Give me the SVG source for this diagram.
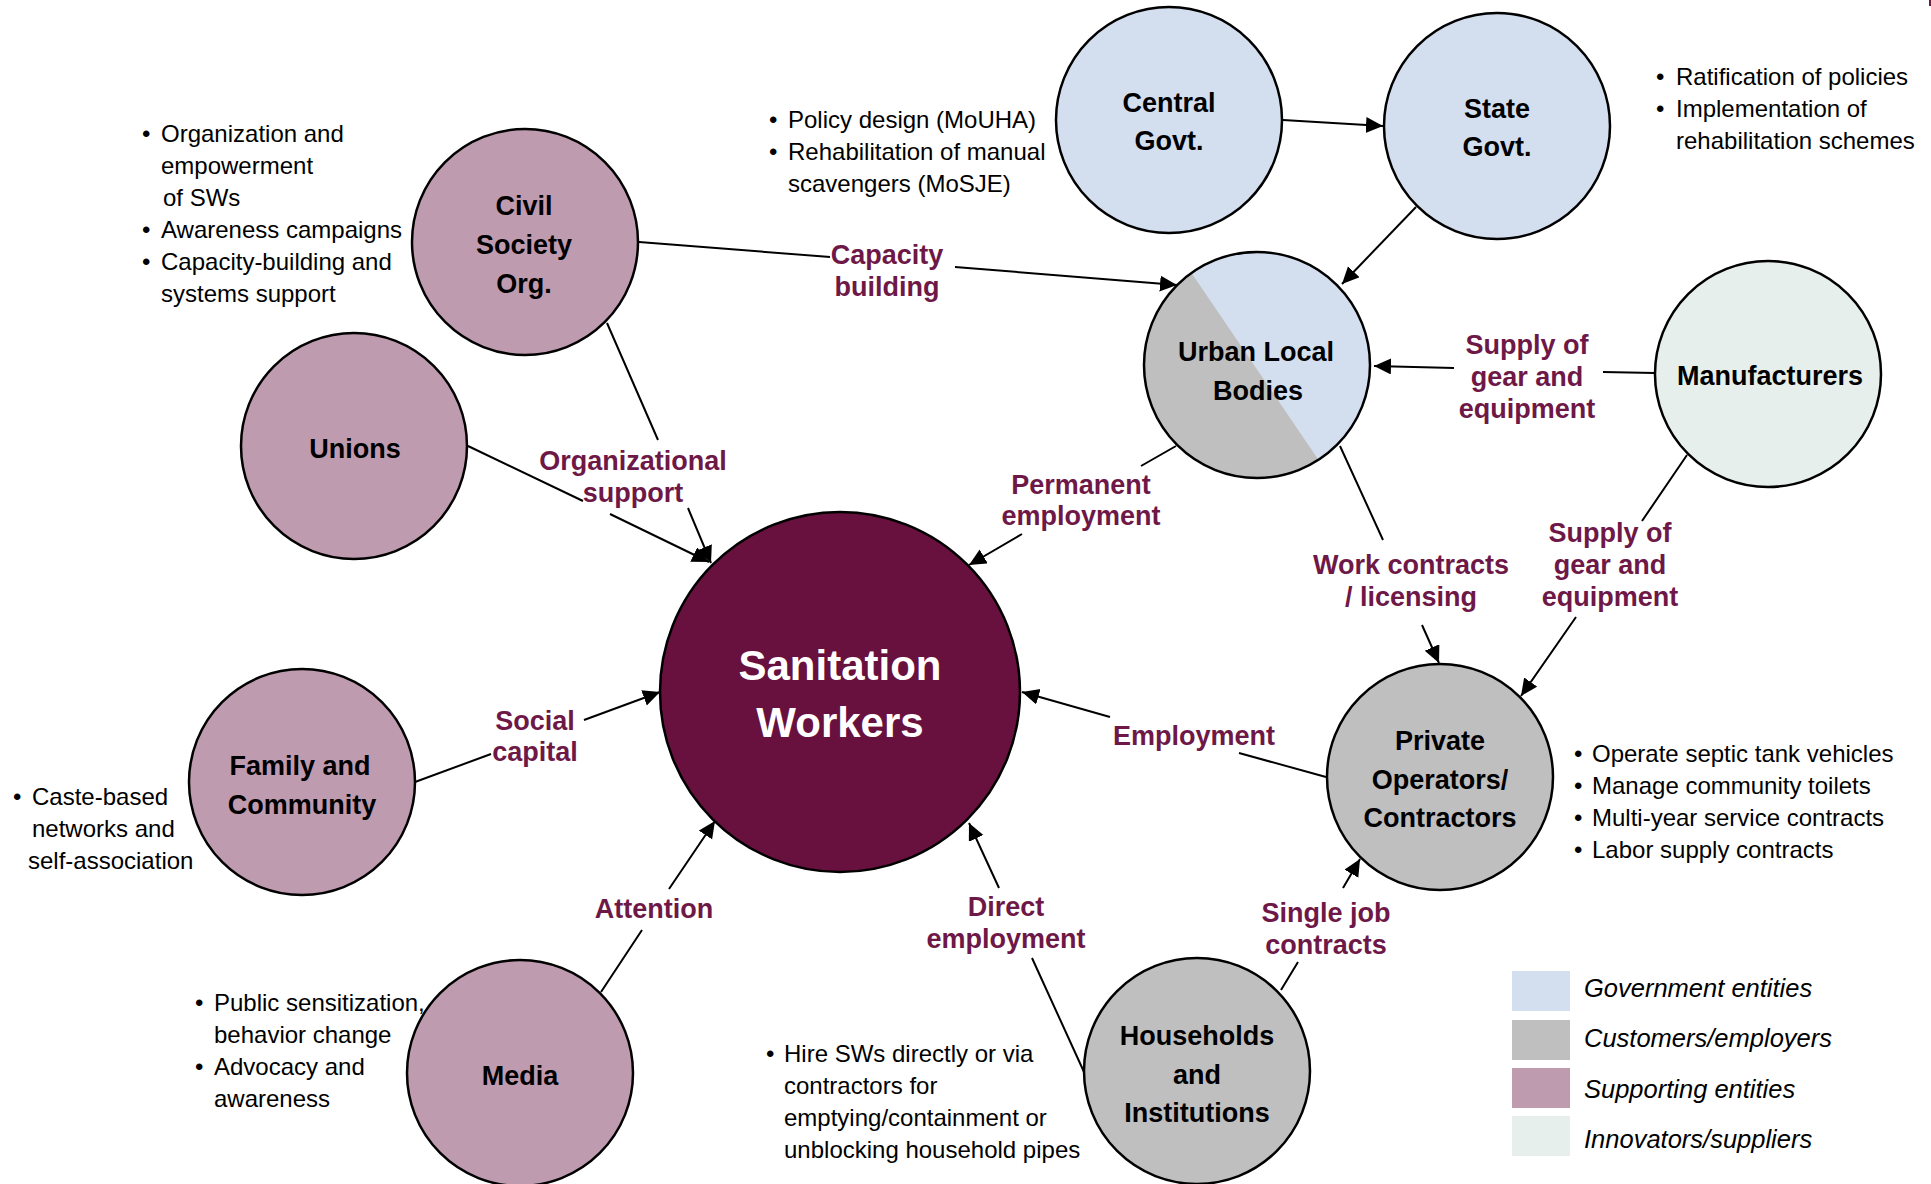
<svg xmlns="http://www.w3.org/2000/svg" width="1931" height="1184" viewBox="0 0 1931 1184">
<style>
.node{stroke:#000;stroke-width:2.5}
.gov{fill:#D3DEEE}
.cust{fill:#BFBFBF}
.sup{fill:#BF9BAF}
.inno{fill:#E6EFEB}
.nl{font-family:"Liberation Sans",Arial,sans-serif;font-weight:bold;font-size:27px;fill:#000;text-anchor:middle}
.el{font-family:"Liberation Sans",Arial,sans-serif;font-weight:bold;font-size:27px;fill:#6E1847;text-anchor:middle}
.bt{font-family:"Liberation Sans",Arial,sans-serif;font-size:24px;fill:#000}
.lg{font-family:"Liberation Sans",Arial,sans-serif;font-style:italic;font-size:25.5px;fill:#000}
.cn{fill:none;stroke:#000;stroke-width:2;marker-end:url(#ah)}
</style>
<defs>
<marker id="ah" markerUnits="userSpaceOnUse" markerWidth="20" markerHeight="18" refX="17" refY="8" orient="auto">
<path d="M0,0 L17,8 L0,16 z" fill="#000"/>
</marker>
<clipPath id="ulbclip"><circle cx="1257" cy="365" r="113"/></clipPath>
</defs>
<rect x="0" y="0" width="1931" height="1184" fill="#fff"/>
<rect x="1929" y="0" width="2" height="6" fill="#6B1A45"/>

<g id="connectors">
<path class="cn" d="M1283,120 L1383,126"/>
<path class="cn" d="M1416,207 L1342,284"/>
<path class="cn" d="M639,242 L830,257 M955,267 L1177,285"/>
<path class="cn" d="M1655,373 L1603,372 M1454,368 L1374,366"/>
<path class="cn" d="M1176,446 L1141,466 M1022,534 L969,565"/>
<path class="cn" d="M607,323 L658,440 M688,508 L711,563"/>
<path class="cn" d="M468,446 L583,501 M610,514 L709,562"/>
<path class="cn" d="M415,782 L491,754 M584,720 L660,692"/>
<path class="cn" d="M601,992 L642,930 M669,889 L715,821"/>
<path class="cn" d="M1084,1072 L1032,958 M999,888 L969,823"/>
<path class="cn" d="M1326,777 L1239,753 M1110,717 L1022,692"/>
<path class="cn" d="M1281,990 L1298,962 M1343,888 L1360,859"/>
<path class="cn" d="M1340,446 L1383,540 M1422,625 L1439,663"/>
<path class="cn" d="M1687,455 L1642,521 M1576,617 L1521,696"/>
</g>

<g id="edge-labels">
<text class="el" x="887" y="264">Capacity</text>
<text class="el" x="887" y="296">building</text>
<text class="el" x="633" y="470">Organizational</text>
<text class="el" x="633" y="502">support</text>
<text class="el" x="1081" y="494">Permanent</text>
<text class="el" x="1081" y="525">employment</text>
<text class="el" x="1527" y="354">Supply of</text>
<text class="el" x="1527" y="386">gear and</text>
<text class="el" x="1527" y="418">equipment</text>
<text class="el" x="1411" y="574">Work contracts</text>
<text class="el" x="1411" y="606">/ licensing</text>
<text class="el" x="1610" y="542">Supply of</text>
<text class="el" x="1610" y="574">gear and</text>
<text class="el" x="1610" y="606">equipment</text>
<text class="el" x="1194" y="745">Employment</text>
<text class="el" x="1326" y="922">Single job</text>
<text class="el" x="1326" y="954">contracts</text>
<text class="el" x="1006" y="916">Direct</text>
<text class="el" x="1006" y="948">employment</text>
<text class="el" x="654" y="918">Attention</text>
<text class="el" x="535" y="730">Social</text>
<text class="el" x="535" y="761">capital</text>
</g>

<g id="sanitation-workers">
<circle cx="840" cy="692" r="180" fill="#68113E" class="node"/>
<text class="nl" x="840" y="680" style="fill:#fff;font-size:42px">Sanitation</text>
<text class="nl" x="840" y="737" style="fill:#fff;font-size:42px">Workers</text>
</g>

<g id="central-govt">
<circle cx="1169" cy="120" r="113" class="node gov"/>
<text class="nl" x="1169" y="112">Central</text>
<text class="nl" x="1169" y="150">Govt.</text>
</g>

<g id="state-govt">
<circle cx="1497" cy="126" r="113" class="node gov"/>
<text class="nl" x="1497" y="118">State</text>
<text class="nl" x="1497" y="156">Govt.</text>
</g>

<g id="urban-local-bodies">
<g clip-path="url(#ulbclip)">
<rect x="1140" y="250" width="235" height="235" class="gov"/>
<polygon points="1129,181 1381,552 1100,552 1100,181" class="cust"/>
</g>
<circle cx="1257" cy="365" r="113" fill="none" class="node"/>
<text class="nl" x="1256" y="361">Urban Local</text>
<text class="nl" x="1258" y="400">Bodies</text>
</g>

<g id="manufacturers">
<circle cx="1768" cy="374" r="113" class="node inno"/>
<text class="nl" x="1770" y="385">Manufacturers</text>
</g>

<g id="civil-society">
<circle cx="525" cy="242" r="113" class="node sup"/>
<text class="nl" x="524" y="215">Civil</text>
<text class="nl" x="524" y="254">Society</text>
<text class="nl" x="524" y="293">Org.</text>
</g>

<g id="unions">
<circle cx="354" cy="446" r="113" class="node sup"/>
<text class="nl" x="355" y="458">Unions</text>
</g>

<g id="family-community">
<circle cx="302" cy="782" r="113" class="node sup"/>
<text class="nl" x="300" y="775">Family and</text>
<text class="nl" x="302" y="814">Community</text>
</g>

<g id="media">
<circle cx="520" cy="1073" r="113" class="node sup"/>
<text class="nl" x="520" y="1085">Media</text>
</g>

<g id="private-operators">
<circle cx="1440" cy="777" r="113" class="node cust"/>
<text class="nl" x="1440" y="750">Private</text>
<text class="nl" x="1440" y="789">Operators/</text>
<text class="nl" x="1440" y="827">Contractors</text>
</g>

<g id="households">
<circle cx="1197" cy="1071" r="113" class="node cust"/>
<text class="nl" x="1197" y="1045">Households</text>
<text class="nl" x="1197" y="1084">and</text>
<text class="nl" x="1197" y="1122">Institutions</text>
</g>

<g id="notes">
<text class="bt" x="142" y="142">•</text><text class="bt" x="161" y="142">Organization and</text>
<text class="bt" x="161" y="174">empowerment</text>
<text class="bt" x="163" y="206">of SWs</text>
<text class="bt" x="142" y="238">•</text><text class="bt" x="161" y="238">Awareness campaigns</text>
<text class="bt" x="142" y="270">•</text><text class="bt" x="161" y="270">Capacity-building and</text>
<text class="bt" x="161" y="302">systems support</text>

<text class="bt" x="769" y="128">•</text><text class="bt" x="788" y="128">Policy design (MoUHA)</text>
<text class="bt" x="769" y="160">•</text><text class="bt" x="788" y="160">Rehabilitation of manual</text>
<text class="bt" x="788" y="192">scavengers (MoSJE)</text>

<text class="bt" x="1656" y="85">•</text><text class="bt" x="1676" y="85">Ratification of policies</text>
<text class="bt" x="1656" y="117">•</text><text class="bt" x="1676" y="117">Implementation of</text>
<text class="bt" x="1676" y="149">rehabilitation schemes</text>

<text class="bt" x="1574" y="762">•</text><text class="bt" x="1592" y="762">Operate septic tank vehicles</text>
<text class="bt" x="1574" y="794">•</text><text class="bt" x="1592" y="794">Manage community toilets</text>
<text class="bt" x="1574" y="826">•</text><text class="bt" x="1592" y="826">Multi-year service contracts</text>
<text class="bt" x="1574" y="858">•</text><text class="bt" x="1592" y="858">Labor supply contracts</text>

<text class="bt" x="13" y="805">•</text><text class="bt" x="32" y="805">Caste-based</text>
<text class="bt" x="32" y="837">networks and</text>
<text class="bt" x="28" y="869">self-association</text>

<text class="bt" x="195" y="1011">•</text><text class="bt" x="214" y="1011">Public sensitization,</text>
<text class="bt" x="214" y="1043">behavior change</text>
<text class="bt" x="195" y="1075">•</text><text class="bt" x="214" y="1075">Advocacy and</text>
<text class="bt" x="214" y="1107">awareness</text>

<text class="bt" x="766" y="1062">•</text><text class="bt" x="784" y="1062">Hire SWs directly or via</text>
<text class="bt" x="784" y="1094">contractors for</text>
<text class="bt" x="784" y="1126">emptying/containment or</text>
<text class="bt" x="784" y="1158">unblocking household pipes</text>
</g>

<g id="legend">
<rect x="1512" y="971" width="58" height="40" class="gov"/>
<text class="lg" x="1584" y="997">Government entities</text>
<rect x="1512" y="1020" width="58" height="40" class="cust"/>
<text class="lg" x="1584" y="1047">Customers/employers</text>
<rect x="1512" y="1068" width="58" height="40" class="sup"/>
<text class="lg" x="1584" y="1098">Supporting entities</text>
<rect x="1512" y="1116" width="58" height="40" class="inno"/>
<text class="lg" x="1584" y="1148">Innovators/suppliers</text>
</g>
</svg>
